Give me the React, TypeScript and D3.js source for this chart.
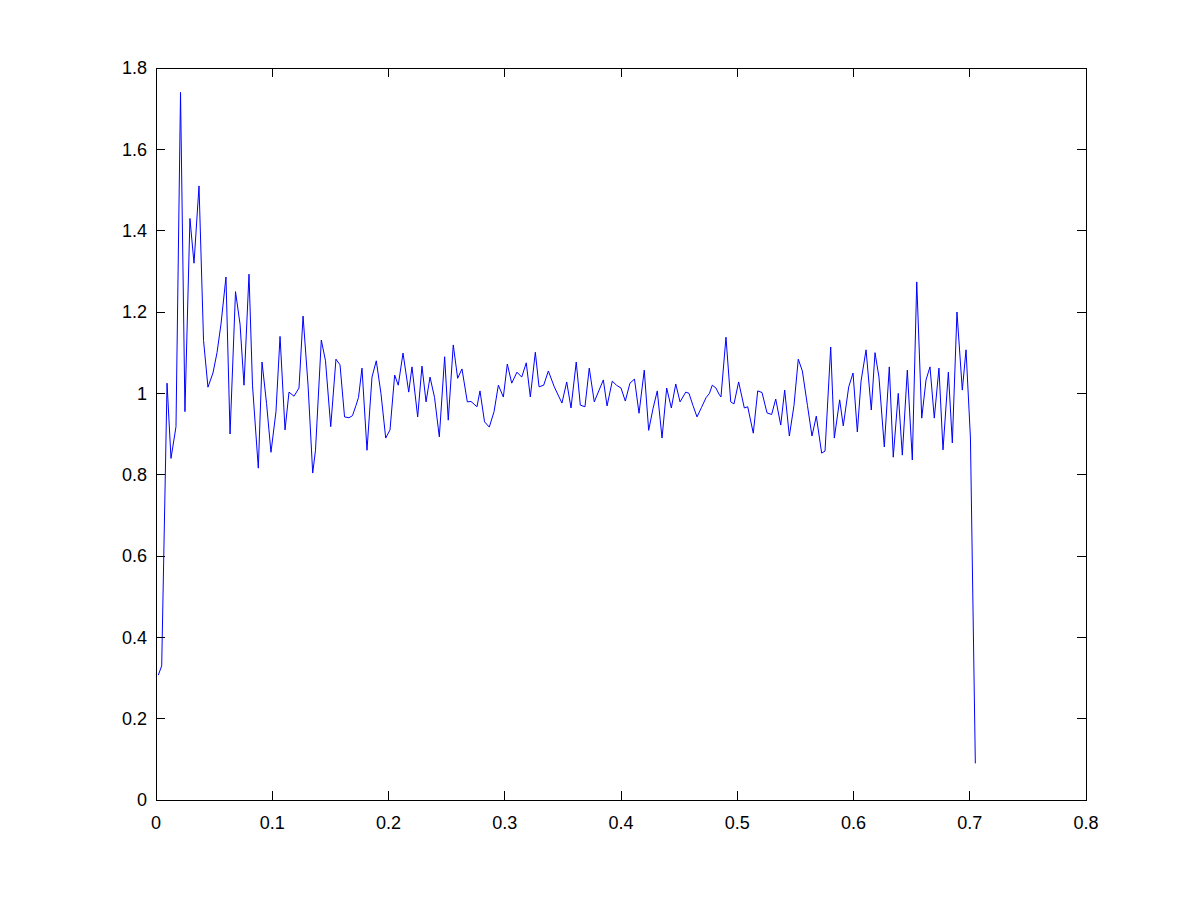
import React from "react";
import * as d3 from "d3";

const xs = [
  0.002, 0.0049, 0.0095, 0.0129, 0.0172, 0.0211, 0.0249, 0.0292, 0.0327, 0.037,
  0.0409, 0.0447, 0.049, 0.0525, 0.0559, 0.0602, 0.0637, 0.0684, 0.0723, 0.0757,
  0.08, 0.083, 0.088, 0.0912, 0.0951, 0.0989, 0.1032, 0.1067, 0.111, 0.1144,
  0.1187, 0.123, 0.1265, 0.1308, 0.1348, 0.1372, 0.1422, 0.1458, 0.1503, 0.1548,
  0.1583, 0.1622, 0.166, 0.169, 0.172, 0.1742, 0.1772, 0.1815, 0.1858, 0.1895,
  0.1935, 0.1976, 0.2013, 0.2053, 0.2084, 0.2125, 0.2174, 0.2202, 0.2251, 0.2288,
  0.2323, 0.2357, 0.2396, 0.2437, 0.2483, 0.2514, 0.2557, 0.2595, 0.2632, 0.2678,
  0.271, 0.2761, 0.2787, 0.2826, 0.2867, 0.2908, 0.2945, 0.2988, 0.3022, 0.306,
  0.3105, 0.3146, 0.3185, 0.322, 0.3263, 0.3295, 0.3335, 0.3375, 0.3426, 0.3492,
  0.3533, 0.357, 0.3615, 0.365, 0.369, 0.3727, 0.377, 0.3848, 0.388, 0.3925,
  0.3961, 0.4, 0.4037, 0.4077, 0.4116, 0.4155, 0.42, 0.4238, 0.4275, 0.4312,
  0.4353, 0.4393, 0.4433, 0.4471, 0.4508, 0.4557, 0.4585, 0.4619, 0.4654, 0.4692,
  0.4731, 0.4761, 0.4785, 0.4817, 0.4843, 0.486, 0.4903, 0.4944, 0.4972, 0.5012,
  0.5061, 0.509, 0.5138, 0.5176, 0.5213, 0.5256, 0.5296, 0.5331, 0.5374, 0.5408,
  0.5448, 0.5488, 0.5525, 0.556, 0.5604, 0.5643, 0.568, 0.5726, 0.5755, 0.5804,
  0.5835, 0.5881, 0.5912, 0.5959, 0.5996, 0.6033, 0.6065, 0.6108, 0.6153, 0.6185,
  0.6219, 0.6265, 0.6308, 0.6342, 0.6385, 0.642, 0.6463, 0.6506, 0.6544, 0.6587,
  0.6624, 0.6658, 0.6695, 0.6735, 0.677, 0.6816, 0.685, 0.689, 0.6936, 0.6968,
  0.7006, 0.7048,
];

const ys = [
  0.307, 0.33, 1.025, 0.84, 0.918, 1.74, 0.955, 1.43, 1.32, 1.51,
  1.13, 1.015, 1.05, 1.1, 1.17, 1.286, 0.9, 1.25, 1.17, 1.02,
  1.293, 1.02, 0.816, 1.077, 0.975, 0.855, 0.955, 1.14, 0.91, 1.003,
  0.993, 1.013, 1.19, 1.02, 0.804, 0.86, 1.131, 1.08, 0.918, 1.084,
  1.07, 0.942, 0.94, 0.945, 0.97, 0.99, 1.062, 0.86, 1.04, 1.08,
  1.0, 0.89, 0.91, 1.045, 1.02, 1.099, 1.003, 1.065, 0.942, 1.067,
  0.979, 1.04, 0.99, 0.893, 1.09, 0.934, 1.119, 1.037, 1.06, 0.979,
  0.98, 0.967, 1.006, 0.93, 0.917, 0.955, 1.02, 0.991, 1.072, 1.025,
  1.052, 1.04, 1.075, 0.991, 1.101, 1.016, 1.02, 1.055, 1.016, 0.976,
  1.028, 0.964, 1.077, 0.971, 0.967, 1.062, 0.979, 1.033, 0.969, 1.03,
  1.02, 1.013, 0.981, 1.025, 1.035, 0.951, 1.057, 0.909, 0.962, 1.006,
  0.89, 1.013, 0.964, 1.023, 0.979, 1.003, 1.0, 0.97, 0.942, 0.965,
  0.989, 1.0, 1.02, 1.013, 0.998, 0.991, 1.138, 0.979, 0.974, 1.028,
  0.964, 0.967, 0.902, 1.006, 1.002, 0.952, 0.948, 0.986, 0.922, 1.008,
  0.895, 0.97, 1.084, 1.055, 0.97, 0.895, 0.944, 0.853, 0.858, 1.114,
  0.89, 0.984, 0.92, 1.016, 1.05, 0.905, 1.03, 1.107, 0.959, 1.1,
  1.04, 0.868, 1.065, 0.843, 1.0, 0.848, 1.057, 0.836, 1.274, 0.939,
  1.033, 1.065, 0.939, 1.062, 0.861, 1.052, 0.878, 1.2, 1.008, 1.107,
  0.89, 0.09,
];

const xTicks = [0, 0.1, 0.2, 0.3, 0.4, 0.5, 0.6, 0.7, 0.8];
const xTickLabels = ["0", "0.1", "0.2", "0.3", "0.4", "0.5", "0.6", "0.7", "0.8"];
const yTicks = [0, 0.2, 0.4, 0.6, 0.8, 1, 1.2, 1.4, 1.6, 1.8];
const yTickLabels = ["0", "0.2", "0.4", "0.6", "0.8", "1", "1.2", "1.4", "1.6", "1.8"];

const W = 1200;
const H = 900;
const left = 156;
const right = 1086;
const top = 68;
const bottom = 800;
const tickLen = 9;
const font = "Arial, 'Liberation Sans', Helvetica, sans-serif";
const fontSize = 18;

export default function App() {
  const x = d3.scaleLinear().domain([0, 0.8]).range([left, right]);
  const y = d3.scaleLinear().domain([0, 1.8]).range([bottom, top]);
  const points: [number, number][] = xs.map((v, i) => [v, ys[i]]);
  const line = d3
    .line<[number, number]>()
    .x((d) => x(d[0]))
    .y((d) => y(d[1]));

  return (
    <div style={{ position: "absolute", left: 0, top: 0 }}>
      <svg width={W} height={H} style={{ display: "block", background: "#fff" }}>
        <rect x={0} y={0} width={W} height={H} fill="#fff" />
        <path d={line(points) || ""} fill="none" stroke="#0000ff" strokeWidth={1} />
        <rect
          x={left}
          y={top}
          width={right - left}
          height={bottom - top}
          fill="none"
          stroke="#000"
          strokeWidth={1}
          shapeRendering="crispEdges"
        />
        {xTicks.map((t, i) => (
          <g key={"xt" + i}>
            <line x1={x(t)} x2={x(t)} y1={bottom} y2={bottom - tickLen} stroke="#000" shapeRendering="crispEdges" />
            <line x1={x(t)} x2={x(t)} y1={top} y2={top + tickLen} stroke="#000" shapeRendering="crispEdges" />
            <text
              x={x(t)}
              y={bottom + 29}
              textAnchor="middle"
              fontFamily={font}
              fontSize={fontSize}
              fill="#000"
            >
              {xTickLabels[i]}
            </text>
          </g>
        ))}
        {yTicks.map((t, i) => (
          <g key={"yt" + i}>
            <line x1={left} x2={left + tickLen} y1={y(t)} y2={y(t)} stroke="#000" shapeRendering="crispEdges" />
            <line x1={right} x2={right - tickLen} y1={y(t)} y2={y(t)} stroke="#000" shapeRendering="crispEdges" />
            <text
              x={left - 9}
              y={y(t)}
              dy="0.35em"
              textAnchor="end"
              fontFamily={font}
              fontSize={fontSize}
              fill="#000"
            >
              {yTickLabels[i]}
            </text>
          </g>
        ))}
      </svg>
    </div>
  );
}
